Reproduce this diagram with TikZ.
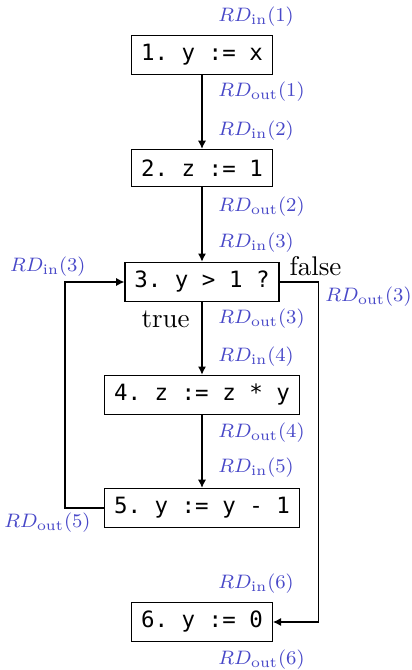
\documentclass[tikz,border=0pt]{standalone}
\usepackage{fontspec}
\setmonofont{DejaVu Sans Mono}[Scale=0.83]
\usetikzlibrary{arrows.meta}
\definecolor{rdblue}{RGB}{72,72,200}
\tikzset{stmt/.style={draw=black,line width=0.5pt,font=\ttfamily,inner xsep=3.5pt,
                      minimum height=13.7pt},
         flow/.style={draw=black,line width=0.45pt,-{Latex[length=3pt,width=3pt]}},
         branch/.style={inner sep=0pt,anchor=base west},
         rd/.style={text=rdblue,inner sep=0pt,font=\fontsize{8}{10}\selectfont,
                    scale=0.9,transform shape}}
\newcommand{\rdin}[1]{$RD_{\mathrm{in}}(#1)$}
\newcommand{\rdout}[1]{$RD_{\mathrm{out}}(#1)$}

\begin{document}
\begin{tikzpicture}[x=0.37pt,y=0.37pt]
  \useasboundingbox (0,0) rectangle (411,-670);
  % statements
  \node[stmt] (s1) at (202,-55)  {1. y := x};
  \node[stmt] (s2) at (202,-168) {2. z := 1};
  \node[stmt] (s3) at (202,-282) {3. y > 1 ?};
  \node[stmt] (s4) at (202,-395) {4. z := z * y};
  \node[stmt] (s5) at (202,-508) {5. y := y - 1};
  \node[stmt] (s6) at (202,-622) {6. y := 0};
  % edges
  \draw[flow] (s1) -- (s2);
  \draw[flow] (s2) -- (s3);
  \draw[flow] (s3) -- (s4);
  \draw[flow] (s4) -- (s5);
  \draw[flow] (s5.west) -- ++(-39,0) |- (s3.west);
  \draw[flow] (s3.east) -- ++(39,0) |- (s6.east);
  \node[branch] (lfalse) at (289,-275) {false};
  \node[branch] (ltrue) at (141,-327) {true};
  % reaching definitions
  \node[rd,anchor=west] (in1)  at (218,-17)  {\rdin{1}};
  \node[rd,anchor=west] (out1) at (218,-92)  {\rdout{1}};
  \node[rd,anchor=west] (in2)  at (218,-131) {\rdin{2}};
  \node[rd,anchor=west] (out2) at (218,-207) {\rdout{2}};
  \node[rd,anchor=west] (in3)  at (218,-243) {\rdin{3}};
  \node[rd,anchor=east] (in3b) at (86,-267)  {\rdin{3}};
  \node[rd,anchor=west] (out3) at (218,-319) {\rdout{3}};
  \node[rd,anchor=west] (out3b) at (325,-297) {\rdout{3}};
  \node[rd,anchor=west] (in4)  at (218,-357) {\rdin{4}};
  \node[rd,anchor=west] (out4) at (218,-433) {\rdout{4}};
  \node[rd,anchor=west] (in5)  at (218,-468) {\rdin{5}};
  \node[rd,anchor=east] (out5) at (91,-523)  {\rdout{5}};
  \node[rd,anchor=west] (in6)  at (218,-584) {\rdin{6}};
  \node[rd,anchor=west] (out6) at (218,-660) {\rdout{6}};
\end{tikzpicture}
\end{document}
